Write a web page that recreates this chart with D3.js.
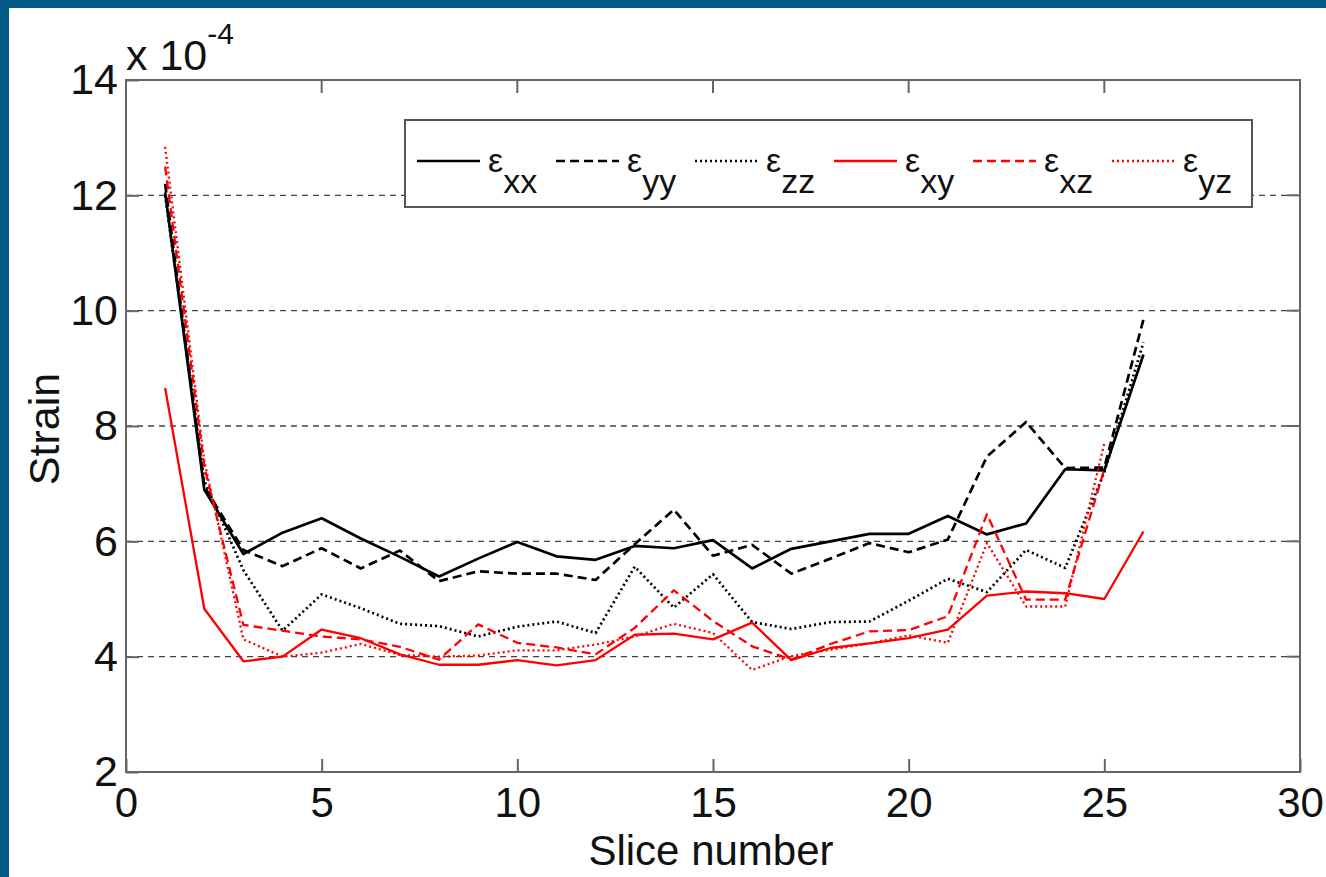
<!DOCTYPE html>
<html>
<head>
<meta charset="utf-8">
<script src="https://cdn.jsdelivr.net/npm/d3@7.9.0/dist/d3.min.js"></script>
<style>
  html, body { margin: 0; padding: 0; background: #025a87; }
  svg { display: block; }
  text { font-family: "Liberation Sans", Arial, sans-serif; fill: #111; }
</style>
</head>
<body>
<svg id="chart" width="1326" height="877"></svg>
<script>
// slice numbers
const slices = d3.range(1, 27);

// strain values (x 10^-4)
const exx = [12.05, 6.9, 5.78, 6.15, 6.4, 6.05, 5.73, 5.39, 5.7, 5.99, 5.74, 5.68, 5.92, 5.88, 6.02, 5.53, 5.87, 6.0, 6.13, 6.13, 6.44, 6.12, 6.31, 7.25, 7.23, 9.24];
const eyy = [12.2, 6.95, 5.85, 5.57, 5.88, 5.53, 5.84, 5.31, 5.48, 5.44, 5.44, 5.33, 5.95, 6.55, 5.75, 5.94, 5.44, 5.7, 5.97, 5.81, 6.03, 7.47, 8.07, 7.27, 7.28, 9.85];
const ezz = [12.0, 7.05, 5.5, 4.45, 5.08, 4.84, 4.57, 4.53, 4.35, 4.52, 4.61, 4.41, 5.56, 4.85, 5.43, 4.6, 4.48, 4.6, 4.61, 4.97, 5.35, 5.12, 5.85, 5.54, 7.2, 9.45];
const exy = [8.66, 4.83, 3.92, 4.0, 4.47, 4.32, 4.04, 3.86, 3.86, 3.94, 3.85, 3.94, 4.38, 4.4, 4.3, 4.59, 3.94, 4.15, 4.23, 4.32, 4.47, 5.06, 5.13, 5.1, 5.0, 6.17];
const exz = [12.5, 7.3, 4.55, 4.45, 4.35, 4.3, 4.17, 3.95, 4.56, 4.24, 4.16, 4.04, 4.5, 5.15, 4.62, 4.18, 3.95, 4.22, 4.44, 4.46, 4.7, 6.47, 4.99, 4.99, 7.25];
const eyz = [12.84, 7.4, 4.3, 4.0, 4.07, 4.22, 4.03, 4.0, 4.02, 4.11, 4.11, 4.21, 4.35, 4.57, 4.41, 3.77, 4.01, 4.12, 4.23, 4.37, 4.24, 5.97, 4.87, 4.87, 7.7];

const seriesNames = ['xx', 'yy', 'zz', 'xy', 'xz', 'yz'];
const seriesValues = [exx, eyy, ezz, exy, exz, eyz];
const seriesColors = ['#000', '#000', '#000', '#ff0000', '#ff0000', '#ff0000'];
const seriesDash = [null, '9,5', '2,3', null, '9,5', '2,3'];

const xTicks = [0, 5, 10, 15, 20, 25, 30];
const yTicks = [2, 4, 6, 8, 10, 12, 14];

const svg = d3.select('#chart');

// white page inside the blue frame
svg.append('rect')
  .attr('x', 9).attr('y', 8)
  .attr('width', 1326 - 9).attr('height', 877 - 8)
  .attr('fill', '#fff');

const x = d3.scaleLinear().domain([0, 30]).range([126, 1300]);
const y = d3.scaleLinear().domain([2, 14]).range([772, 80]);

// dashed horizontal grid
svg.append('g')
  .selectAll('line')
  .data(yTicks.slice(1, -1))
  .join('line')
  .attr('x1', x(0)).attr('x2', x(30))
  .attr('y1', d => y(d)).attr('y2', d => y(d))
  .attr('stroke', '#444')
  .attr('stroke-width', 1.3)
  .attr('stroke-dasharray', '6,5');

// axes with inward ticks (box style)
const tickLen = 13;
const axisColor = '#666';
const fontFam = '"Liberation Sans", Arial, sans-serif';

svg.append('g')
  .attr('transform', `translate(0,${y(2)})`)
  .call(d3.axisBottom(x).tickValues(xTicks).tickSize(-tickLen).tickPadding(15))
  .call(g => g.select('.domain').remove())
  .call(g => g.selectAll('line').attr('stroke', axisColor).attr('stroke-width', 2))
  .call(g => g.selectAll('text').attr('font-size', 42).attr('font-family', fontFam).attr('fill', '#111'));

svg.append('g')
  .attr('transform', `translate(${x(0)},0)`)
  .call(d3.axisLeft(y).tickValues(yTicks).tickSize(-tickLen).tickPadding(8))
  .call(g => g.select('.domain').remove())
  .call(g => g.selectAll('line').attr('stroke', axisColor).attr('stroke-width', 2))
  .call(g => g.selectAll('text').attr('font-size', 43).attr('font-family', fontFam).attr('fill', '#111'));

// top and right ticks
svg.append('g').selectAll('line').data(xTicks.slice(1, -1)).join('line')
  .attr('x1', d => x(d)).attr('x2', d => x(d))
  .attr('y1', y(14)).attr('y2', y(14) + tickLen)
  .attr('stroke', axisColor).attr('stroke-width', 2);
svg.append('g').selectAll('line').data(yTicks.slice(1, -1)).join('line')
  .attr('x1', x(30)).attr('x2', x(30) - tickLen)
  .attr('y1', d => y(d)).attr('y2', d => y(d))
  .attr('stroke', axisColor).attr('stroke-width', 2);

// the data lines
const line = d3.line()
  .x((d, i) => x(slices[i]))
  .y(d => y(d));

seriesValues.forEach((vals, i) => {
  svg.append('path')
    .attr('d', line(vals))
    .attr('fill', 'none')
    .attr('stroke', seriesColors[i])
    .attr('stroke-width', i < 3 ? 2.7 : 2.3)
    .attr('stroke-linejoin', 'round')
    .attr('stroke-dasharray', seriesDash[i]);
});

// plot box
svg.append('rect')
  .attr('x', x(0)).attr('y', y(14))
  .attr('width', x(30) - x(0)).attr('height', y(2) - y(14))
  .attr('fill', 'none')
  .attr('stroke', axisColor)
  .attr('stroke-width', 2);

// exponent label
const expo = svg.append('text').attr('x', 126).attr('y', 70).attr('font-size', 43);
expo.append('tspan').text('x 10');
expo.append('tspan').attr('dy', -26).attr('font-size', 30).text('-4');

// axis labels
svg.append('text')
  .attr('x', 711).attr('y', 865)
  .attr('text-anchor', 'middle')
  .attr('font-size', 42)
  .text('Slice number');

svg.append('text')
  .attr('transform', 'translate(59,429) rotate(-90)')
  .attr('text-anchor', 'middle')
  .attr('font-size', 43)
  .text('Strain');

// legend
const legend = svg.append('g');
legend.append('rect')
  .attr('x', 405).attr('y', 120)
  .attr('width', 847).attr('height', 87)
  .attr('fill', '#fff')
  .attr('stroke', '#555')
  .attr('stroke-width', 2);

seriesNames.forEach((name, i) => {
  const x0 = 417 + i * 139;
  legend.append('line')
    .attr('x1', x0).attr('x2', x0 + 63)
    .attr('y1', 161).attr('y2', 161)
    .attr('stroke', seriesColors[i])
    .attr('stroke-width', i < 3 ? 2.7 : 2.3)
    .attr('stroke-dasharray', seriesDash[i]);
  const t = legend.append('text')
    .attr('x', x0 + 71).attr('y', 172)
    .attr('font-size', 34);
  t.append('tspan').text('ε');
  t.append('tspan').attr('dy', 21).text(name);
});
</script>
</body>
</html>
